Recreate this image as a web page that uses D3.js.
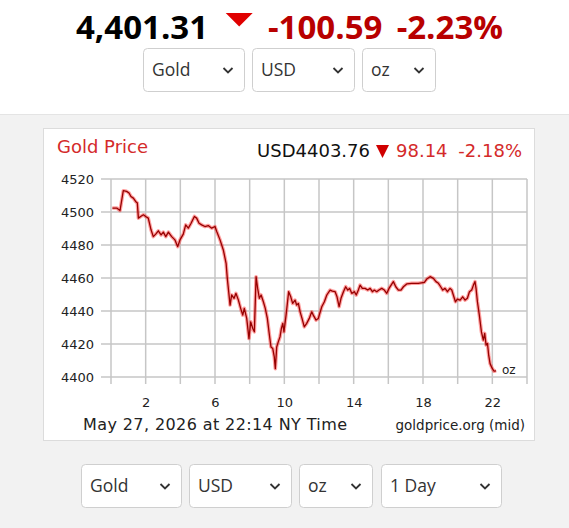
<!DOCTYPE html>
<html><head><meta charset="utf-8">
<script src="https://cdn.jsdelivr.net/npm/d3@7"></script>
<style>html,body{margin:0;padding:0;background:#fff;overflow:hidden}</style>
</head><body><svg id="c" width="569" height="528"></svg>
<script>
// ---- data ----
const hours = [0.08,0.33,0.52,0.71,0.90,1.04,1.15,1.29,1.42,1.52,1.58,1.71,1.87,2.00,2.15,2.31,2.44,2.58,2.73,2.89,3.02,3.16,3.31,3.50,3.69,3.85,3.98,4.17,4.31,4.46,4.62,4.81,4.94,5.08,5.23,5.42,5.61,5.81,6.00,
6.10,6.29,6.48,6.64,6.71,6.79,6.87,6.96,7.10,7.21,7.35,7.48,7.60,7.69,7.83,7.96,8.06,8.18,8.27,8.37,8.46,8.56,8.66,8.79,8.90,9.02,9.14,9.23,9.33,9.42,9.48,9.56,9.65,9.75,9.83,9.91,9.98,10.10,10.25,10.37,10.48,10.62,10.71,10.81,10.91,11.02,11.15,11.29,11.44,11.58,11.67,11.83,11.96,
12.16,12.31,12.45,12.64,12.77,12.93,13.04,13.16,13.27,13.41,13.54,13.66,13.77,13.89,14.04,14.15,14.27,14.37,14.50,14.66,14.81,14.95,15.08,15.19,15.33,15.46,15.62,15.77,15.91,16.04,16.16,16.29,16.43,16.58,16.73,16.87,17.06,17.35,17.73,18.08,
18.22,18.41,18.60,18.75,18.89,19.02,19.14,19.27,19.41,19.56,19.66,19.75,19.87,19.98,20.14,20.29,20.43,20.56,20.68,20.81,20.91,21.00,21.06,21.14,21.25,21.37,21.48,21.56,21.64,21.72,21.79,21.87,21.98,22.10,22.22];
const prices = [4502.4,4502.4,4500.9,4512.9,4512.5,4511.5,4509.4,4508.4,4506.4,4505.4,4496.3,4497.3,4498.3,4497.3,4496.3,4489.2,4485.1,4486.6,4488.6,4486.1,4487.8,4485.1,4487.8,4485.1,4483.1,4479.0,4483.1,4486.6,4492.2,4490.2,4493.2,4497.3,4496.3,4493.2,4492.2,4491.2,4491.8,4490.2,4491.2,
4488.2,4483.1,4477.0,4468.9,4459.8,4451.7,4443.6,4449.7,4447.7,4450.7,4446.6,4441.6,4437.5,4441.6,4435.5,4423.3,4433.4,4429.4,4427.4,4460.8,4453.7,4447.7,4449.7,4445.6,4441.6,4435.5,4425.3,4418.2,4417.3,4412.2,4405.1,4418.2,4421.3,4424.3,4429.4,4432.5,4427.4,4437.5,4451.7,4448.6,4444.6,4446.6,4443.6,4444.6,4439.5,4435.5,4430.4,4432.5,4435.5,4439.5,4437.5,4434.5,4435.5,
4442.6,4445.6,4449.7,4452.7,4452.1,4451.7,4448.6,4442.6,4447.7,4451.7,4454.7,4452.7,4453.7,4450.7,4451.7,4449.7,4452.7,4455.7,4453.7,4453.7,4452.7,4453.7,4451.7,4452.7,4451.7,4452.7,4453.7,4452.7,4450.7,4453.7,4455.7,4457.8,4454.7,4452.7,4452.7,4454.7,4456.4,4456.8,4456.8,4457.4,
4459.4,4460.8,4459.8,4457.8,4456.8,4454.7,4452.7,4453.7,4451.7,4453.7,4452.7,4449.7,4445.6,4447.2,4446.6,4448.6,4446.6,4447.7,4451.7,4452.7,4455.7,4457.8,4453.7,4445.6,4437.5,4427.4,4422.3,4426.4,4419.3,4420.3,4413.2,4408.1,4405.5,4403.5,4403.76];
const yTicks = [4400,4420,4440,4460,4480,4500,4520];
const xTicks = [2,6,10,14,18,22];
const xGrid = [0,2,4,6,8,10,12,14,16,18,20,22,24];
const headPrice = "4,401.31", headChange = "-100.59", headPct = "-2.23%";
const chartTitle = "Gold Price";
const chartPrice = "USD4403.76", chartChange = "98.14", chartPct = "-2.18%";
const footLeft = "May 27, 2026 at 22:14 NY Time", footRight = "goldprice.org (mid)", unitLabel = "oz";
const topSelects = ["Gold","USD","oz"];
const bottomSelects = ["Gold","USD","oz","1 Day"];

// ---- drawing ----
const svg = d3.select("#c");
svg.append("rect").attr("x",0).attr("y",0).attr("width",569).attr("height",528).attr("fill","#fff");
svg.append("rect").attr("x",0).attr("y",114).attr("width",569).attr("height",414).attr("fill","#f2f2f2");
svg.append("line").attr("x1",0).attr("x2",569).attr("y1",114.5).attr("y2",114.5).attr("stroke","#e4e4e4");

// header
const hdr = svg.append("g").attr("font-family","'Open Sans'").attr("font-weight",700).attr("font-size",33);
hdr.append("text").attr("x",76).attr("y",38.5).attr("fill","#000").text(headPrice);
hdr.append("path").attr("d","M225.7,13L252.7,13L239.2,26.5Z").attr("fill","#e00000");
hdr.append("text").attr("x",268).attr("y",38.5).attr("fill","#b80000").text(headChange);
hdr.append("text").attr("x",503).attr("y",38.5).attr("text-anchor","end").attr("fill","#b80000").text(headPct);

function drawSelects(items, xs, ws, y, h){
  items.forEach((t,i)=>{
    const g = svg.append("g");
    g.append("rect").attr("x",xs[i]+0.5).attr("y",y+0.5).attr("width",ws[i]-1).attr("height",h-1)
      .attr("rx",4).attr("fill","#fff").attr("stroke","#cfcfcf");
    g.append("text").attr("x",xs[i]+9).attr("y",y+h/2).attr("dy","0.35em")
      .attr("font-family","'Open Sans'").attr("font-size",17.5).attr("fill","#333").text(t);
    const cx = xs[i]+ws[i]-17, cy = y+h/2;
    g.append("path").attr("d",`M${cx-4.5},${cy-2}L${cx},${cy+2.5}L${cx+4.5},${cy-2}`)
      .attr("fill","none").attr("stroke","#333").attr("stroke-width",1.8);
  });
}
drawSelects(topSelects,[143,252,362],[102,103,74],48,44);
drawSelects(bottomSelects,[81,189,299,381],[101,103,74,121],464,44);

// chart box
svg.append("rect").attr("x",43.5).attr("y",128.5).attr("width",491).attr("height",312)
  .attr("fill","#fff").attr("stroke","#dcdcdc");

const x = d3.scaleLinear().domain([0,24]).range([111,527]);
const y = d3.scaleLinear().domain([4400,4520]).range([377,179]);
const ch = svg.append("g").attr("font-family","'DejaVu Sans'");

// grid
ch.selectAll(".vg").data(xGrid).join("line")
  .attr("x1",d=>x(d)).attr("x2",d=>x(d)).attr("y1",y(4520)).attr("y2",y(4400)+7)
  .attr("stroke","#c6c6c6").attr("stroke-width",1.5);
ch.selectAll(".hg").data(yTicks).join("line")
  .attr("x1",x(0)-10).attr("x2",x(24)).attr("y1",d=>y(d)).attr("y2",d=>y(d))
  .attr("stroke","#c6c6c6").attr("stroke-width",1.5);

const yAxis = d3.axisLeft(y).tickValues(yTicks).tickSize(0).tickPadding(0).tickFormat(d3.format("d"));
const ya = ch.append("g").attr("transform","translate(94,0)").call(yAxis);
ya.select(".domain").remove();
ya.selectAll("text").attr("font-family","'DejaVu Sans'").attr("font-size",13).attr("fill","#222");

const xAxis = d3.axisBottom(x).tickValues(xTicks).tickSize(0).tickPadding(0).tickFormat(d3.format("d"));
const xa = ch.append("g").attr("transform","translate(0,398)").call(xAxis);
xa.select(".domain").remove();
xa.selectAll("text").attr("font-family","'DejaVu Sans'").attr("font-size",13).attr("fill","#222");

// line
const pts = hours.map((h,i)=>[h,prices[i]]);
const line = d3.line().x(d=>x(d[0])).y(d=>y(d[1]));
ch.append("path").datum(pts).attr("d",line).attr("fill","none").attr("stroke","#ff2a2a")
  .attr("stroke-opacity",0.45).attr("stroke-width",3.6).attr("stroke-linejoin","round");
ch.append("path").datum(pts).attr("d",line).attr("fill","none").attr("stroke","#960000")
  .attr("stroke-width",1.3).attr("stroke-linejoin","round");

ch.append("text").attr("x",502).attr("y",374).attr("font-size",12).attr("fill","#222").text(unitLabel);

// titles
ch.append("text").attr("x",57).attr("y",153).attr("font-size",18).attr("fill","#d42a2a").text(chartTitle);
ch.append("text").attr("x",370).attr("y",157).attr("text-anchor","end").attr("font-size",18).attr("fill","#111").text(chartPrice);
ch.append("path").attr("d","M376,145L389,145L382.5,158Z").attr("fill","#d00000");
ch.append("text").attr("x",396).attr("y",157).attr("font-size",18).attr("fill","#d42a2a").text(chartChange);
ch.append("text").attr("x",522).attr("y",157).attr("text-anchor","end").attr("font-size",18).attr("fill","#d42a2a").text(chartPct);

// footer
ch.append("text").attr("x",83).attr("y",430).attr("font-size",16).attr("letter-spacing",0.4).attr("fill","#222").text(footLeft);
ch.append("text").attr("x",525).attr("y",430).attr("text-anchor","end").attr("font-size",13.5).attr("fill","#222").text(footRight);
</script></body></html>
